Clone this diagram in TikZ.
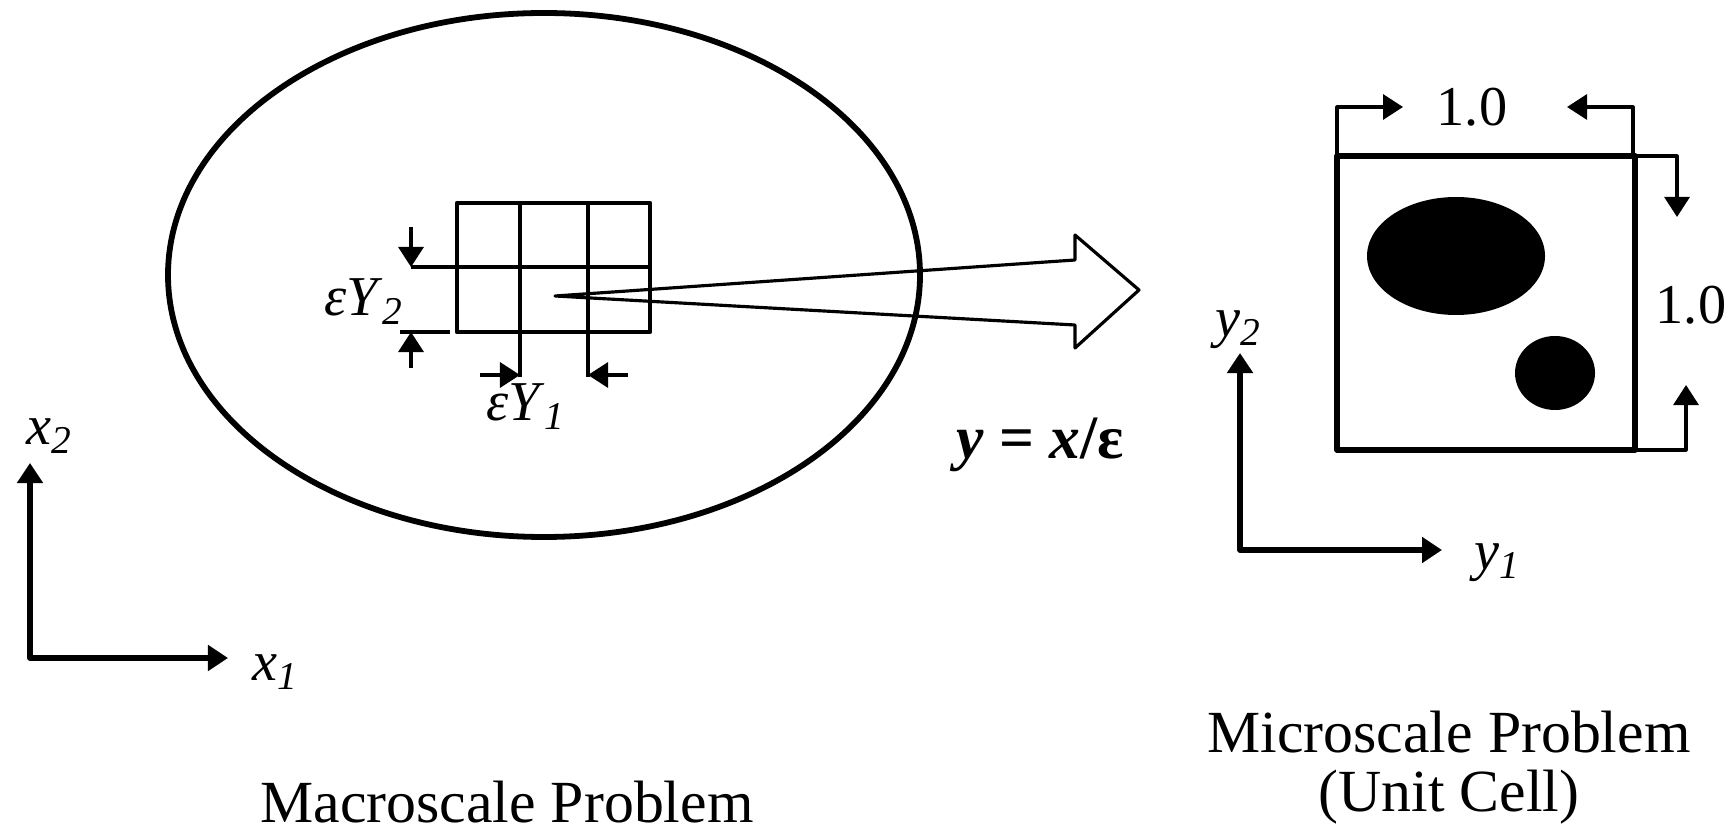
\documentclass[tikz,border=0pt]{standalone}
\usepackage{fontspec}
\setmainfont{Liberation Serif}
\usetikzlibrary{arrows.meta}

\begin{document}
\begin{tikzpicture}[x=0.01cm, y=-0.01cm, >={Triangle[length=2mm, width=2.5mm]}, line join=round,
  every node/.style={font=\fontsize{16}{19}\selectfont, inner sep=0pt},
  title/.style={anchor=base, font=\fontsize{17}{20}\selectfont},
  heavy/.style={line width=1.65pt}, cellgrid/.style={line width=1.3pt}, dim/.style={line width=0.9pt}]
\useasboundingbox (0,0) rectangle (1728,834);
% macroscale body with its grid of cells
\draw[heavy] (544,275) ellipse [x radius=376, y radius=262];
\draw[cellgrid] (457,203) rectangle (650,332);
\draw[cellgrid] (457,267) -- (650,267);
\foreach \x in {520,588} \draw[cellgrid] (\x,203) -- (\x,332);
% cell size marks
\draw[dim] (411,267) -- (457,267);
\draw[dim] (400,332) -- (450,332);
\draw[dim,->] (411,227) -- (411,267);
\draw[dim,->] (411,368) -- (411,332);
\draw[dim] (520,332) -- (520,377);
\draw[dim] (588,332) -- (588,377);
\draw[dim,->] (480,375) -- (520,375);
\draw[dim,->] (628,375) -- (588,375);
\node (eytwo) at (364,302) {\textit{εY}\textsubscript{\textit{2}}};
\node (eyone) at (526,407) {\textit{εY}\textsubscript{\textit{1}}};
% mapping arrow
\draw[dim] (555,296) -- (1075,260) -- (1075,235) -- (1139,290) -- (1075,348) -- (1075,325) -- cycle;
\node (map) [font=\fontsize{17.5}{20}\selectfont\bfseries] at (1040,445) {\textit{y} = \textit{x}/ε};
% macro axes
\draw[heavy,<->] (30,463) |- (228,658);
\node (xtwo) at (50,436) {\textit{x}\textsubscript{\textit{2}}};
\node (xone) at (276,672) {\textit{x}\textsubscript{\textit{1}}};
\node (macro) [title] at (507,822) {Macroscale Problem};
% unit cell
\draw[heavy] (1337,156) rectangle (1635,450);
\fill (1456,256) ellipse [x radius=89, y radius=59];
\fill (1555,373) ellipse [x radius=40, y radius=37];
\draw[dim,->] (1337,156) |- (1403,107);
\draw[dim,->] (1633,156) |- (1567,107);
\draw[dim,->] (1635,156) -| (1677,217);
\draw[dim,->] (1635,450) -| (1686,385);
\node (width) at (1472,107) {1.0};
\node (height) at (1691,305) {1.0};
% micro axes
\draw[heavy,<->] (1240,353) |- (1442,550);
\node (ytwo) at (1239,330) {\textit{y}\textsubscript{\textit{2}}};
\node (yone) at (1498,563) {\textit{y}\textsubscript{\textit{1}}};
\node (micro) [title] at (1449,752) {Microscale Problem};
\node (cell) [title] at (1449,811) {(Unit Cell)};
\end{tikzpicture}
\end{document}
